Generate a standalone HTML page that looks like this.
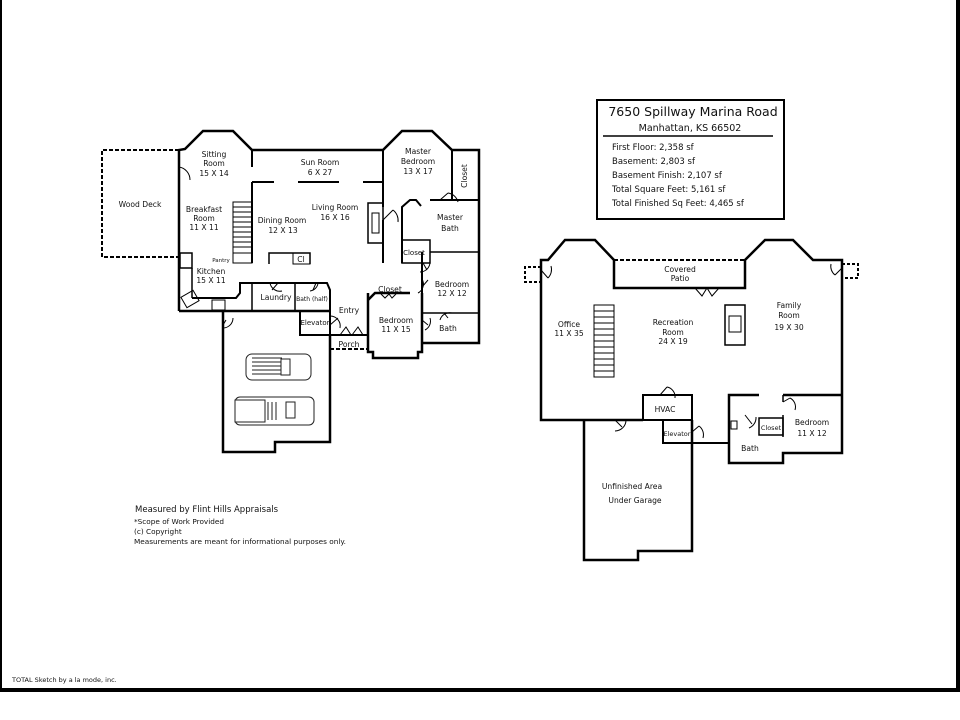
<!DOCTYPE html>
<html><head><meta charset="utf-8"><style>
html,body{margin:0;padding:0;background:#fff;}
svg{display:block;}
text{font-family:"DejaVu Sans","Liberation Sans",sans-serif;fill:#111;}
</style></head><body>
<svg width="960" height="720" viewBox="0 0 960 720" xmlns="http://www.w3.org/2000/svg">
<rect x="0" y="0" width="960" height="720" fill="#fff"/>
<!-- frame -->
<rect x="0" y="0" width="2" height="692" fill="#000"/>
<rect x="956" y="0" width="4" height="692" fill="#000"/>
<rect x="0" y="688" width="960" height="4" fill="#000"/>
<text x="12" y="682" font-size="6.5" font-family="Liberation Sans Narrow, Liberation Sans, sans-serif">TOTAL Sketch by a la mode, inc.</text>

<!-- info box -->
<rect x="597" y="100" width="187" height="119" fill="none" stroke="#000" stroke-width="2"/>
<line x1="603" y1="136" x2="773" y2="136" stroke="#000" stroke-width="1.5"/>
<text x="693" y="116" font-size="12.5" text-anchor="middle">7650 Spillway Marina Road</text>
<text x="690" y="131" font-size="9.5" text-anchor="middle">Manhattan, KS 66502</text>
<g font-size="8.5">
<text x="612" y="150">First Floor: 2,358 sf</text>
<text x="612" y="164">Basement: 2,803 sf</text>
<text x="612" y="178">Basement Finish: 2,107 sf</text>
<text x="612" y="192">Total Square Feet: 5,161 sf</text>
<text x="612" y="206">Total Finished Sq Feet: 4,465 sf</text>
</g>

<!-- notes -->
<text x="135" y="512" font-size="8.5">Measured by Flint Hills Appraisals</text>
<g font-size="7.3">
<text x="134" y="524">*Scope of Work Provided</text>
<text x="134" y="534">(c) Copyright</text>
<text x="134" y="544">Measurements are meant for informational purposes only.</text>
</g>

<!-- FIRST FLOOR -->
<g fill="none" stroke="#000" stroke-width="2.5" stroke-linejoin="miter">
<polyline points="179,150 102,150 102,257 179,257" stroke-width="2" stroke-dasharray="4,2"/>
<polyline points="179,311 179,150 185,149 203,131 233,131 252,150 383,150 402,131 432,131 452,150 479,150 479,343 423,343"/>
<polyline points="179,311 330,311"/>
<polyline points="368,293 368,352 373,352 373,358 418,358 418,352 422,352 422,293"/>
<polyline points="368,300 375,293 410,293"/>
<rect x="300" y="311" width="30" height="24" stroke-width="2"/>
<line x1="330" y1="335" x2="368" y2="335" stroke-width="2"/>
<line x1="330" y1="349" x2="368" y2="349" stroke-width="2" stroke-dasharray="4,2"/>
<polyline points="223,311 223,452 275,452 275,442 330,442 330,335"/>
<line x1="252" y1="150" x2="252" y2="167" stroke-width="2"/>
<line x1="252" y1="182" x2="274" y2="182" stroke-width="2"/>
<line x1="298" y1="182" x2="339" y2="182" stroke-width="2"/>
<line x1="363" y1="182" x2="383" y2="182" stroke-width="2"/>
<line x1="252" y1="182" x2="252" y2="263" stroke-width="2"/>
<line x1="383" y1="150" x2="383" y2="207" stroke-width="2"/>
<line x1="383" y1="220" x2="383" y2="263" stroke-width="2"/>
<polyline points="402,263 402,207 410,200 416,200 421,206" stroke-width="2"/>
<line x1="430" y1="200" x2="479" y2="200" stroke-width="2"/>
<line x1="452" y1="150" x2="452" y2="200" stroke-width="2"/>
<rect x="402" y="240" width="28" height="23" stroke-width="1.5"/>
<line x1="430" y1="252" x2="479" y2="252" stroke-width="1.5"/>
<line x1="422" y1="252" x2="422" y2="293" stroke-width="2"/>
<line x1="422" y1="313" x2="479" y2="313" stroke-width="1.5"/>
<polyline points="192,298 236,298 240,293 240,283 327,283 330,290 330,311" stroke-width="2"/>
<line x1="252" y1="283" x2="252" y2="311" stroke-width="1.5"/>
<line x1="295" y1="283" x2="295" y2="311" stroke-width="1.5"/>
<line x1="192" y1="298" x2="192" y2="268" stroke-width="1.5"/>
</g>
<g fill="none" stroke="#000" stroke-width="1">
<rect x="233" y="202" width="19" height="51"/>
<path d="M233 207h19M233 212h19M233 217h19M233 222h19M233 227h19M233 232h19M233 237h19M233 242h19M233 247h19"/>
<rect x="233" y="253" width="19" height="10"/>
<rect x="180" y="253" width="12" height="15" stroke-width="1.5"/>
<rect x="368" y="203" width="15" height="40" stroke-width="1.5"/>
<rect x="372" y="213" width="7" height="20"/>
<polyline points="269,264 269,253 310,253 310,264" stroke-width="1.5"/>
<rect x="293" y="253" width="17" height="11"/>
<rect x="183" y="293" width="14" height="12" transform="rotate(-30 190 299)"/>
<rect x="212" y="300" width="13" height="10"/>
<path d="M179 167 A13 13 0 0 1 190 180"/>
<path d="M383 220 L393 210 M393 210 A13 13 0 0 1 398 222"/>
<path d="M440 200 L448 193 M448 193 A12 12 0 0 1 458 202"/>
<path d="M423 263 L427 270 M420 272 A10 10 0 0 0 430 262"/>
<path d="M422 287 L428 280 M422 279 A10 10 0 0 1 418 293"/>
<path d="M422 320 L428 325 M425 330 A10 10 0 0 0 430 318"/>
<path d="M444 313 L448 318 M440 320 A10 10 0 0 1 452 313"/>
<path d="M278 283 L272 290 M270 283 A10 10 0 0 0 282 291"/>
<path d="M316 283 L313 290 M310 291 A9 9 0 0 0 318 283"/>
<path d="M223 325 L226 320 M223 328 A10 10 0 0 0 233 318"/>
<path d="M330 325 L338 318 M330 316 A10 10 0 0 1 340 328"/>
<path d="M340 335 L346 327 L351 335 M352 335 L358 327 L363 335"/>
<path d="M381 294 L385 298 L389 294 L392 298 L396 294"/>
</g>
<g fill="#fff" stroke="#222" stroke-width="1">
<rect x="246" y="354" width="65" height="26" rx="6"/>
<path d="M252 358h30M252 362h30M252 366h30M252 370h30M252 374h30"/>
<rect x="281" y="359" width="9" height="16"/>
<rect x="235" y="397" width="79" height="28" rx="5"/>
<rect x="235" y="400" width="30" height="22"/>
<path d="M268 402v18M272 402v18M276 402v18"/>
<rect x="286" y="402" width="9" height="16"/>
</g>
<g font-size="7.6" text-anchor="middle">
<text x="140" y="207">Wood Deck</text>
<text x="214" y="157">Sitting</text><text x="214" y="166">Room</text><text x="214" y="176">15 X 14</text>
<text x="320" y="165">Sun Room</text><text x="320" y="175">6 X 27</text>
<text x="204" y="212">Breakfast</text><text x="204" y="221">Room</text><text x="204" y="230">11 X 11</text>
<text x="282" y="223">Dining Room</text><text x="283" y="233">12 X 13</text>
<text x="335" y="210">Living Room</text><text x="335" y="220">16 X 16</text>
<text x="211" y="274">Kitchen</text><text x="211" y="283">15 X 11</text>
<text x="276" y="300">Laundry</text>
<text x="312" y="301" font-size="6">Bath (half)</text>
<text x="315" y="325" font-size="7">Elevator</text>
<text x="349" y="313">Entry</text>
<text x="349" y="347">Porch</text>
<text x="396" y="323">Bedroom</text><text x="396" y="332">11 X 15</text>
<text x="390" y="292">Closet</text>
<text x="418" y="154">Master</text><text x="418" y="164">Bedroom</text><text x="418" y="174">13 X 17</text>
<text x="450" y="220">Master</text><text x="450" y="231">Bath</text>
<text x="414" y="255" font-size="7">Closet</text>
<text x="452" y="287">Bedroom</text><text x="452" y="296">12 X 12</text>
<text x="448" y="331">Bath</text>
<text x="221" y="262" font-size="5.5">Pantry</text>
<text x="301" y="262">Cl</text>
<text x="0" y="0" transform="translate(467,176) rotate(-90)" text-anchor="middle">Closet</text>
</g>

<!-- BASEMENT -->
<g fill="none" stroke="#000" stroke-width="2.5">
<polyline points="643,420 541,420 541,260 548,260 565,240 595,240 614,260 614,288 745,288 745,260 765,240 793,240 813,260 842,260 842,453 783,453 783,463 729,463 729,395 759,395"/>
<line x1="783" y1="395" x2="842" y2="395"/>
<polyline points="584,420 584,560 638,560 638,551 692,551 692,420"/>
<polyline points="643,420 643,395 692,395 692,443 729,443" stroke-width="2"/>
<polyline points="663,420 663,443 692,443" stroke-width="2"/>
<line x1="643" y1="420" x2="692" y2="420" stroke-width="2"/>
<line x1="614" y1="260" x2="745" y2="260" stroke-width="2" stroke-dasharray="4,2"/>
<line x1="783" y1="395" x2="783" y2="402" stroke-width="1.5"/>
<line x1="783" y1="415" x2="783" y2="437" stroke-width="1.5"/>
<polyline points="541,267 525,267 525,282 541,282" stroke-width="2" stroke-dasharray="3,2"/>
<polyline points="842,264 858,264 858,278 842,278" stroke-width="2" stroke-dasharray="3,2"/>
</g>
<g fill="none" stroke="#000" stroke-width="1">
<rect x="594" y="305" width="20" height="72"/>
<path d="M594 311h20M594 317h20M594 323h20M594 329h20M594 335h20M594 341h20M594 347h20M594 353h20M594 359h20M594 365h20M594 371h20"/>
<rect x="725" y="305" width="20" height="40" stroke-width="1.5"/>
<rect x="729" y="316" width="12" height="16"/>
<rect x="759" y="418" width="24" height="17" stroke-width="1.5"/>
<path d="M695 288 L702 296 L707 288 L712 296 L719 288"/>
<path d="M541 270 L548 278 M548 278 A12 12 0 0 0 551 266"/>
<path d="M842 268 L835 275 M835 275 A11 11 0 0 1 831 264"/>
<path d="M660 395 L667 387 M667 387 A10 10 0 0 1 675 398"/>
<path d="M615 420 L622 427 M615 431 A11 11 0 0 0 626 420"/>
<path d="M692 432 L699 426 M699 426 A11 11 0 0 1 703 438"/>
<path d="M783 402 L790 398 M790 398 A10 10 0 0 1 795 410"/>
<path d="M745 415 L752 424 M749 428 A11 11 0 0 0 756 417"/>
<rect x="731" y="421" width="6" height="8"/>
</g>
<g font-size="7.6" text-anchor="middle">
<text x="680" y="272">Covered</text><text x="680" y="281">Patio</text>
<text x="569" y="327">Office</text><text x="569" y="336">11 X 35</text>
<text x="673" y="325">Recreation</text><text x="673" y="335">Room</text><text x="673" y="344">24 X 19</text>
<text x="789" y="308">Family</text><text x="789" y="318">Room</text><text x="789" y="330">19 X 30</text>
<text x="665" y="412">HVAC</text>
<text x="677" y="436" font-size="6.5">Elevator</text>
<text x="771" y="430" font-size="6.5">Closet</text>
<text x="812" y="425">Bedroom</text><text x="812" y="436">11 X 12</text>
<text x="750" y="451">Bath</text>
<text x="632" y="489">Unfinished Area</text>
<text x="635" y="503">Under Garage</text>
</g>
</svg>
</body></html>
